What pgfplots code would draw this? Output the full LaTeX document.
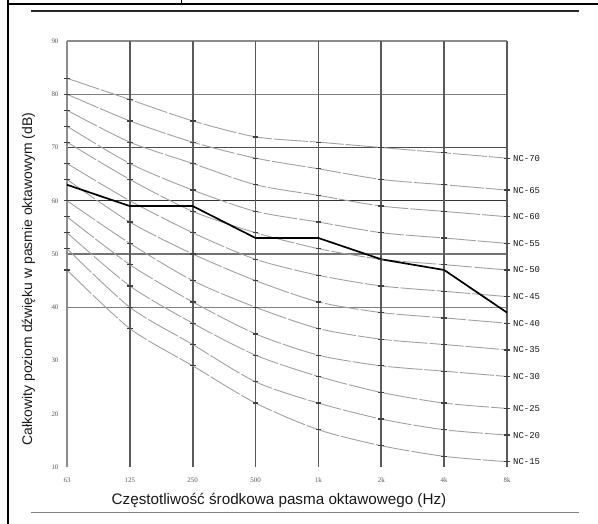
\documentclass[border=0pt]{standalone}
\usepackage{pgfplots}
\usepackage{pgfplotstable}
\pgfplotsset{compat=1.18}
\usepackage{fontspec}
\setmainfont{Liberation Sans}
\newfontfamily\tickfont{Liberation Serif}
\newfontfamily\ncfont{Liberation Mono}
\definecolor{ncgray}{HTML}{A0A0A0}
\definecolor{vline}{HTML}{5A5A5A}

\pgfplotstableread{
x nc15 nc20 nc25 nc30 nc35 nc40 nc45 nc50 nc55 nc60 nc65 nc70 meas
0 47 51 54 57 60 64 67 71 74 77 80 83 63
1 36 40 44 48 52 56 60 64 67 71 75 79 59
2 29 33 37 41 45 50 54 58 62 67 71 75 59
3 22 26 31 35 40 45 49 54 58 63 68 72 53
4 17 22 27 31 36 41 46 51 56 61 66 71 53
5 14 19 24 29 34 39 44 49 54 59 64 70 49
6 12 17 22 28 33 38 43 48 53 58 63 69 47
7 11 16 21 27 32 37 42 47 52 57 62 68 39
}\ncdata

\tikzset{nclab/.style={anchor=west, inner sep=0pt, xshift=6bp, font=\ncfont\fontsize{9}{9}\selectfont, text=black!90}}

\begin{document}
\begin{tikzpicture}[x=1bp,y=1bp]
\useasboundingbox (0,0) rectangle (598,-524);
% page frame
\draw[black, line width=2bp] (7.5,0) -- (7.5,-524);
\draw[black, line width=2bp] (7,-4) -- (598,-4);
\draw[black, line width=1bp] (181.5,0) -- (181.5,-4);
\draw[black!85, line width=2.2bp] (31,-11) -- (579,-11);
\draw[black!50, line width=0.9bp] (31,-512) -- (579,-512);

\begin{axis}[
  at={(67bp,-467bp)}, anchor=south west,
  scale only axis, width=440bp, height=426bp,
  xmin=0, xmax=7, ymin=10, ymax=90,
  axis line style={draw=none},
  major tick length=0pt,
  xtick={0,1,2,3,4,5,6,7},
  xticklabels={63,125,250,500,1k,2k,4k,8k},
  ytick={10,20,30,40,50,60,70,80,90},
  yticklabels={10,20,30,40,50,60,70,80,90},
  tick label style={font=\tickfont\fontsize{7}{8}\selectfont, text=black!65},
  yticklabel style={xshift=-5bp},
  xticklabel style={yshift=-7bp},
  clip=false,
]
% horizontal reference lines
\draw[black!50, line width=1.1bp] (axis cs:0,40) -- (axis cs:7,40);
\draw[black!55, line width=1.2bp] (axis cs:0,50) -- (axis cs:7,50);
\draw[black!80, line width=1.4bp] (axis cs:0,60) -- (axis cs:7,60);
\draw[black!70, line width=1.3bp] (axis cs:0,70) -- (axis cs:7,70);
\draw[black!50, line width=1.1bp] (axis cs:0,80) -- (axis cs:7,80);
\draw[black!45, line width=1.1bp] (axis cs:0,90) -- (axis cs:7,90);
% vertical lines
\draw[black!45, line width=1.1bp] (axis cs:0,10) -- (axis cs:0,90);
\pgfplotsinvokeforeach{1,...,7}{
  \draw[vline, line width=1.6bp] (axis cs:#1,10) -- (axis cs:#1,90);
}
% NC curves
\pgfplotsinvokeforeach{15,20,25,30,35,40,45,50,55,60,65,70}{
  \addplot[ncgray, line width=0.9bp, smooth, tension=0.45,
    dash pattern=on 34bp off 2bp,
    mark=-, mark size=2.8bp, mark options={solid, draw=black!75, line width=1.3bp}]
    table[x=x, y=nc#1] {\ncdata};
}
% measured spectrum
\addplot[black, line width=1.7bp, no marks] table[x=x, y=meas] {\ncdata};
% NC labels
\node[nclab] at (axis cs:7,68) {NC-70};
\node[nclab] at (axis cs:7,62) {NC-65};
\node[nclab] at (axis cs:7,57) {NC-60};
\node[nclab] at (axis cs:7,52) {NC-55};
\node[nclab] at (axis cs:7,47) {NC-50};
\node[nclab] at (axis cs:7,42) {NC-45};
\node[nclab] at (axis cs:7,37) {NC-40};
\node[nclab] at (axis cs:7,32) {NC-35};
\node[nclab] at (axis cs:7,27) {NC-30};
\node[nclab] at (axis cs:7,21) {NC-25};
\node[nclab] at (axis cs:7,16) {NC-20};
\node[nclab] at (axis cs:7,11) {NC-15};
\end{axis}

% axis titles
\node[anchor=base, font=\fontsize{15.3}{17}\selectfont, text=black!90] at (279,-504.5) {Częstotliwość środkowa pasma oktawowego (Hz)};
\node[anchor=base, rotate=90, font=\fontsize{14}{16}\selectfont, text=black!90] at (32,-279) {Całkowity poziom dźwięku w pasmie oktawowym (dB)};
\end{tikzpicture}
\end{document}
